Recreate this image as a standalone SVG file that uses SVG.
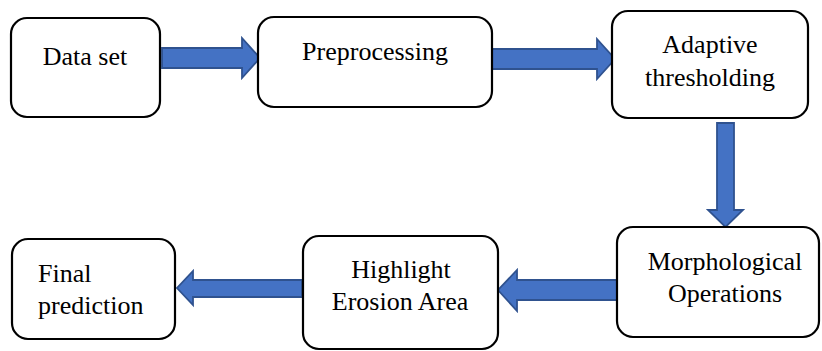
<svg xmlns="http://www.w3.org/2000/svg" width="822" height="351" viewBox="0 0 822 351">
<style>
.box{fill:#fff;stroke:#000;stroke-width:2.2}
text{font-family:'Liberation Serif','DejaVu Serif',serif;font-size:26px;fill:#000}
.arr{fill:#4472C4;stroke:#2F528F;stroke-width:1.8;stroke-linejoin:miter}
</style>
<rect width="822" height="351" fill="#fff"/>
<g id="connectors">
<path class="arr" d="M162,48 H242 V38 L260,58 L242,78 V68 H162 Z"/>
<path class="arr" d="M492,49 H597 V39 L615,59 L597,79 V69 H492 Z"/>
<path class="arr" d="M717,123 H734 V210 H743 L725.5,227 L708,210 H717 Z"/>
<path class="arr" d="M619,280 H517 V270 L498,290 L517,311 V300 H619 Z"/>
<path class="arr" d="M302,280 H193 V271 L177,288 L193,305 V297 H302 Z"/>
</g>
<g id="n1">
<rect class="box" x="11" y="18" width="149" height="99" rx="16"/>
<text x="85" y="65" text-anchor="middle" font-family="Liberation Serif, serif">Data set</text>
</g>
<g id="n2">
<rect class="box" x="258" y="17" width="234" height="90" rx="16"/>
<text x="375" y="60" text-anchor="middle" font-family="Liberation Serif, serif">Preprocessing</text>
</g>
<g id="n3">
<rect class="box" x="612" y="11" width="196" height="107" rx="16"/>
<text x="710" y="53" text-anchor="middle" font-family="Liberation Serif, serif">Adaptive</text>
<text x="710" y="86" text-anchor="middle" font-family="Liberation Serif, serif">thresholding</text>
</g>
<g id="n4">
<rect class="box" x="617" y="227" width="202" height="110" rx="16"/>
<text x="725" y="270" text-anchor="middle" font-family="Liberation Serif, serif">Morphological</text>
<text x="725" y="302" text-anchor="middle" font-family="Liberation Serif, serif">Operations</text>
</g>
<g id="n5">
<rect class="box" x="303" y="236" width="195" height="113" rx="16"/>
<text x="401" y="278" text-anchor="middle" font-family="Liberation Serif, serif">Highlight</text>
<text x="400" y="310" text-anchor="middle" font-family="Liberation Serif, serif">Erosion Area</text>
</g>
<g id="n6">
<rect class="box" x="12" y="239" width="163" height="100" rx="16"/>
<text x="38" y="282" font-family="Liberation Serif, serif">Final</text>
<text x="38" y="314" font-family="Liberation Serif, serif">prediction</text>
</g>
</svg>
